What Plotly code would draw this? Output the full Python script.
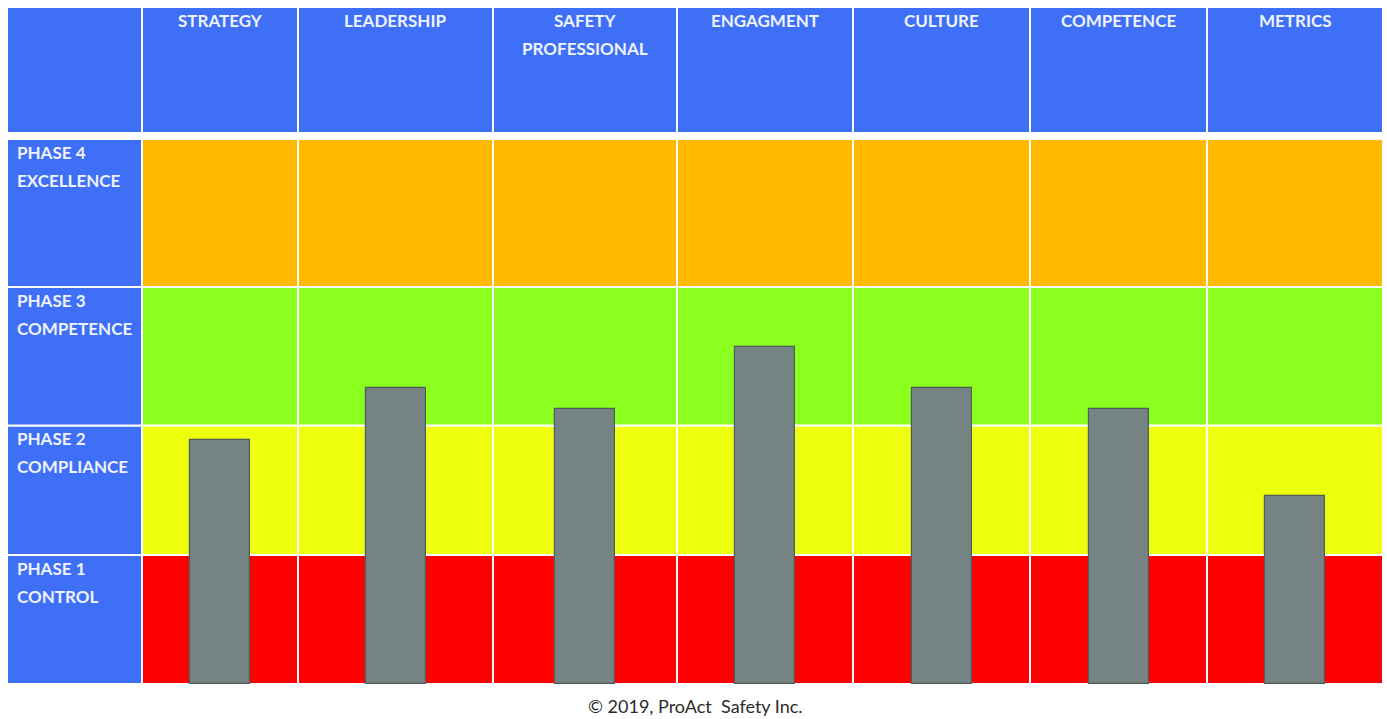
import plotly.graph_objects as go

# Dimensions assessed across the top of the maturity grid
categories = ["STRATEGY", "LEADERSHIP", "SAFETY<br>PROFESSIONAL", "ENGAGMENT",
              "CULTURE", "COMPETENCE", "METRICS"]
# Maturity level reached in each dimension (grid units, 0 = bottom of Phase 1)
maturity = [244, 296, 275, 337, 296, 275, 188]

# Phase bands, bottom to top
phase_names = ["PHASE 1", "PHASE 2", "PHASE 3", "PHASE 4"]
phase_stages = ["CONTROL", "COMPLIANCE", "COMPETENCE", "EXCELLENCE"]

# ---- layout of the grid (drawing coordinates) ----
W, H = 1387, 719
col_edges = [7, 142, 298, 493, 677, 853, 1030, 1207, 1383]
row_bounds = [(0, 129), (129, 258.5), (258.5, 397), (397, 545)]
header = (551, 677)
phase_colors = ["#ff0000", "#eeff0e", "#8bff1e", "#ffb900"]
blue = "#3f6ff6"
label_col = "#eef3ff"
font_bold = "Lato"

shapes = []


def cell(x0, x1, y0, y1, color):
    shapes.append(dict(type="rect", xref="x", yref="y", x0=x0, x1=x1, y0=y0, y1=y1,
                       fillcolor=color, line=dict(color="white", width=2),
                       layer="below"))


# header row
for i in range(len(col_edges) - 1):
    cell(col_edges[i], col_edges[i + 1], header[0], header[1], blue)

# phase rows
for r, (y0, y1) in enumerate(row_bounds):
    cell(col_edges[0], col_edges[1], y0, y1, blue)
    for i in range(1, len(col_edges) - 1):
        cell(col_edges[i], col_edges[i + 1], y0, y1, phase_colors[r])

centers = [(col_edges[i] + col_edges[i + 1]) / 2 for i in range(1, len(col_edges) - 1)]

fig = go.Figure()
fig.add_trace(go.Bar(
    x=centers, y=maturity, base=0, width=60,
    marker=dict(color="#768383", line=dict(color="#4c5c5c", width=1.2)),
    hoverinfo="skip", showlegend=False,
))

annotations = []
for cx, name in zip(centers, categories):
    lines = name.split("<br>")
    for k, line in enumerate(lines):
        annotations.append(dict(
            x=cx, y=header[1] - 13.5 - 27.5 * k, xref="x", yref="y",
            text="<b>%s</b>" % line, showarrow=False, xanchor="center", yanchor="middle",
            font=dict(family=font_bold, size=17, color=label_col)))

for (y0, y1), name, stage in zip(row_bounds, phase_names, phase_stages):
    for k, line in enumerate([name, stage]):
        annotations.append(dict(
            x=15, y=y1 - 13 - 28 * k, xref="x", yref="y",
            text="<b>%s</b>" % line, showarrow=False, xanchor="left", yanchor="middle",
            font=dict(family=font_bold, size=17, color=label_col)))

annotations.append(dict(
    x=695, y=-22, xref="x", yref="y", text="© 2019, ProAct\u00a0 Safety Inc.",
    showarrow=False, xanchor="center", yanchor="middle",
    font=dict(family="Lato", size=18, color="#2b2b2b")))

fig.update_layout(
    width=W, height=H,
    margin=dict(l=0, r=0, t=0, b=0),
    paper_bgcolor="white", plot_bgcolor="white",
    shapes=shapes, annotations=annotations,
    xaxis=dict(range=[0, W], visible=False, fixedrange=True),
    yaxis=dict(range=[684 - H, 684], visible=False, fixedrange=True),
    bargap=0,
)

fig.write_html("out.html")
